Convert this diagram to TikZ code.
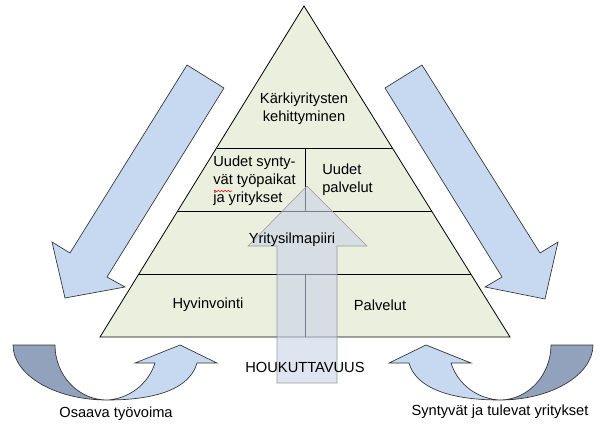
\documentclass[tikz,border=0pt]{standalone}
\usepackage{fontspec}
\setmainfont{Liberation Sans}
\usetikzlibrary{decorations.pathmorphing}
\definecolor{pyrfill}{RGB}{235,239,222}
\definecolor{arrblue}{RGB}{198,217,241}
\definecolor{curvedark}{RGB}{146,162,188}
\definecolor{shaftfill}{RGB}{200,212,232}
\begin{document}
\begin{tikzpicture}[x=0.75pt, y=-0.75pt, line join=miter,
    every node/.style={font=\fontsize{11}{13.6}\selectfont},
    bigarrow/.style={draw=black!80, line width=0.5pt, fill=arrblue},
    halfcurve/.style={draw=black!80, line width=0.5pt, fill=curvedark}]
  \useasboundingbox (0,0) rectangle (604,430);
  % side arrows
  \draw[bigarrow] (187,65) -- (224,88) -- (107,277) -- (125,287) -- (65,298) -- (52,242) -- (70,253) -- cycle;
  \draw[bigarrow] (422,65) -- (385,88) -- (502,277) -- (485,287) -- (545,299) -- (558,242) -- (540,253) -- cycle;
  % pyramid
  \draw[fill=pyrfill, line width=0.6pt] (304,6) -- (510,337) -- (100,337) -- cycle;
  \draw[line width=0.6pt] (216.5,148) -- (392.4,148);
  \draw[line width=0.6pt] (177.7,211) -- (431.6,211);
  \draw[line width=0.6pt] (138.8,274) -- (470.8,274);
  \draw[line width=0.6pt] (305,148) -- (305,211);
  \draw[line width=0.6pt] (305,274) -- (305,337);
  % attraction arrow
  \draw[draw=black!40, fill=shaftfill, fill opacity=0.6] (277,383) -- (277,246) -- (248,246) -- (307,186) -- (367,246) -- (337,246) -- (337,383) -- cycle;
  % curved arrows
  \draw[halfcurve] (13,345) -- (55,345) .. controls (55,375) and (78,400) .. (107,400) .. controls (55,400) and (13,375) .. (13,345) -- cycle;
  \draw[bigarrow] (107,400) .. controls (158,400) and (190,388) .. (197,363) -- (217,363) -- (180,345) -- (135,363) -- (155,363) .. controls (148,385) and (128,399) .. (107,400) -- cycle;
  \draw[halfcurve] (593,345) -- (551,345) .. controls (551,375) and (528,400) .. (500,400) .. controls (551,400) and (593,375) .. (593,345) -- cycle;
  \draw[bigarrow] (500,400) .. controls (450,400) and (416,388) .. (409,363) -- (389,363) -- (426,345) -- (471,363) -- (451,363) .. controls (458,385) and (478,399) .. (500,400) -- cycle;
  % labels
  \node (top) [align=center] at (304,109) {Kärkiyritysten\\kehittyminen};
  \node (newjobs) [align=left, anchor=west, inner sep=0pt] at (213,181) {Uudet synty-\\vät työpaikat\\ja yritykset};
  \draw[red, decorate, decoration={snake, amplitude=0.6pt, segment length=2.5pt}] (214,191) -- (232,191);
  \node (newserv) [align=left, anchor=west, inner sep=0pt] at (322,180) {Uudet\\palvelut};
  \node (climate) at (292,240) {Yritysilmapiiri};
  \node (welfare) at (208,305) {Hyvinvointi};
  \node (serv) at (380,305) {Palvelut};
  \node (attract) at (305,367) {HOUKUTTAVUUS};
  \node (labour) at (116,414) {Osaava työvoima};
  \node (firms) at (500,412) {Syntyvät ja tulevat yritykset};
\end{tikzpicture}
\end{document}
